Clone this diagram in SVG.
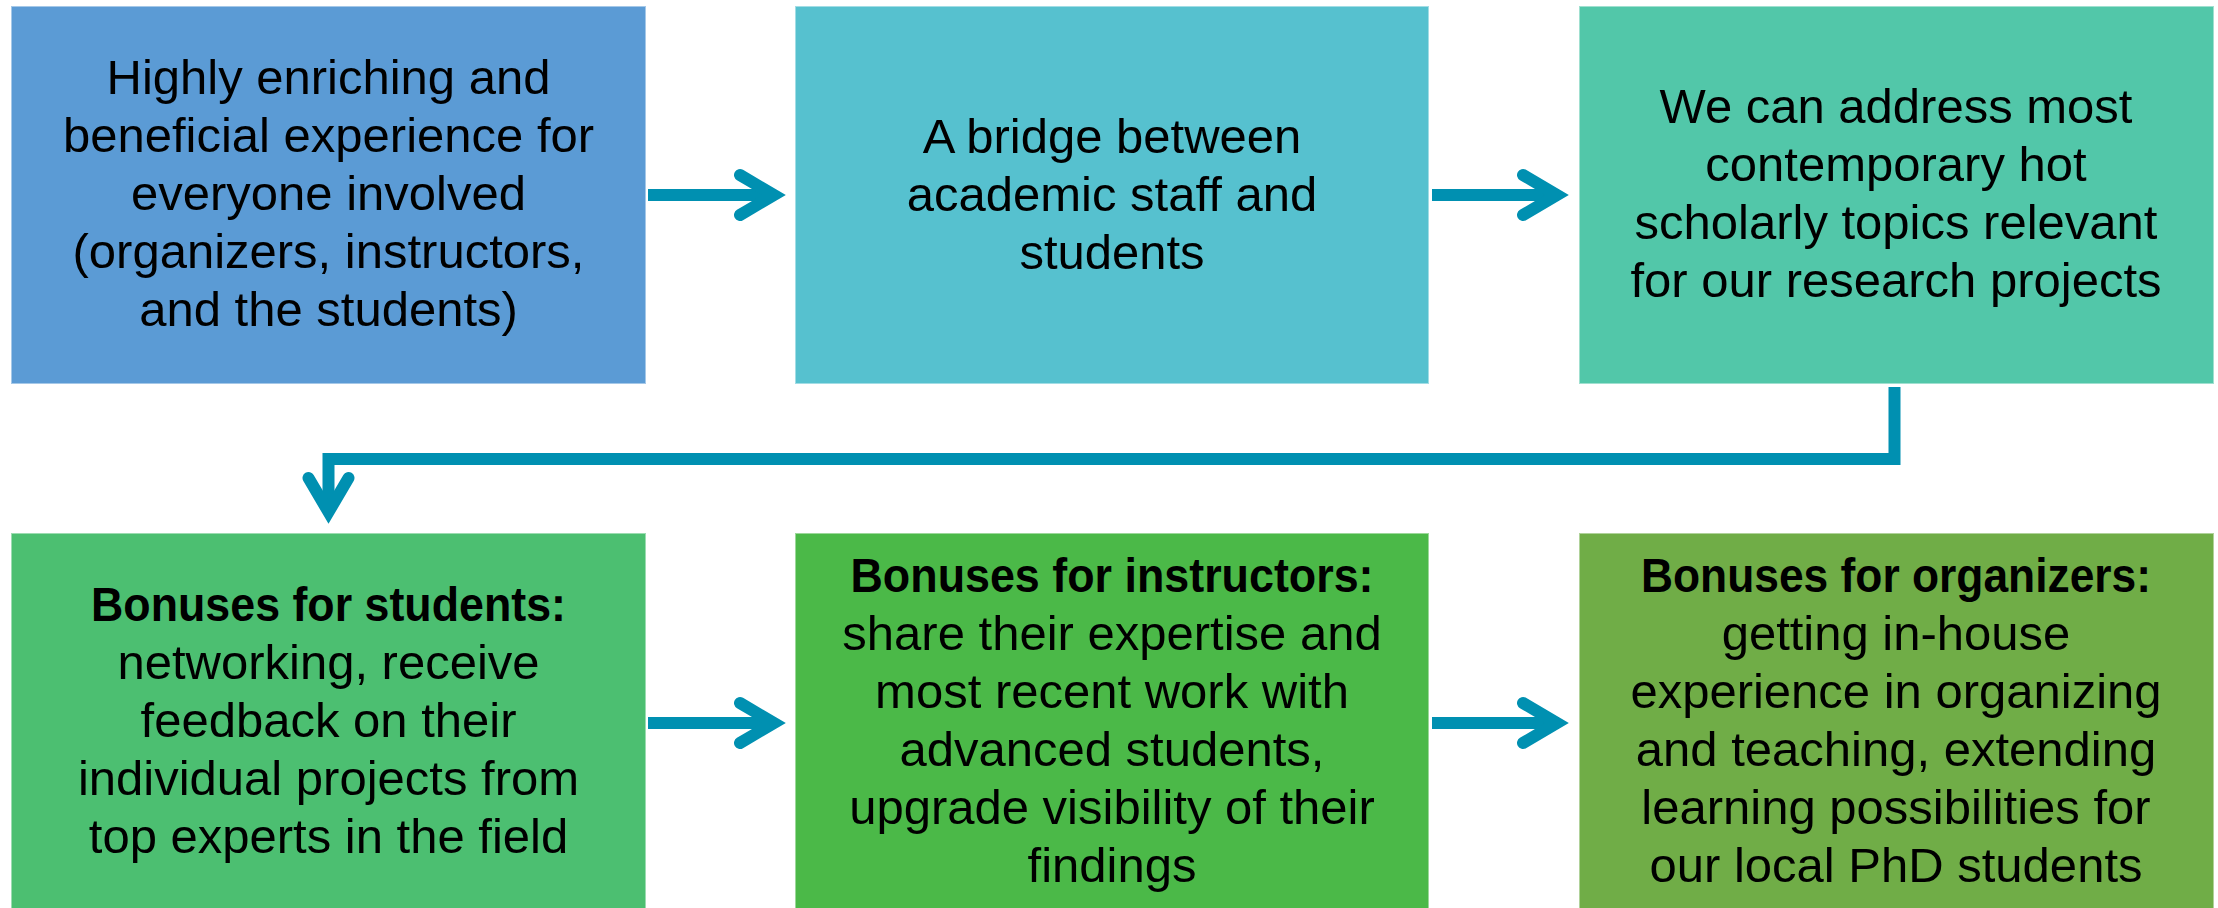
<svg xmlns="http://www.w3.org/2000/svg" width="2218" height="908" viewBox="0 0 2218 908">
<style>
.box{stroke:#ffffff;stroke-opacity:0.45;stroke-width:2}
.t{font-family:"Liberation Sans",Arial,sans-serif;font-size:49px;fill:#000;text-anchor:middle}
.b{font-weight:bold}
.shaft{fill:none;stroke:#0090B1;stroke-width:12;stroke-linecap:butt;stroke-linejoin:miter}
.head{fill:none;stroke:#0090B1;stroke-width:12;stroke-linecap:round;stroke-linejoin:miter;stroke-miterlimit:6}
</style>
<rect width="2218" height="908" fill="#ffffff"/>
<g id="connectors">
  <path class="shaft" d="M648 195 H774"/>
  <path class="head" d="M740 175 L774 195 L740 215"/>
  <path class="shaft" d="M1432 195 H1557"/>
  <path class="head" d="M1523 175 L1557 195 L1523 215"/>
  <path class="shaft" d="M1894.5 387 V459 H328.5 V512"/>
  <path class="head" d="M308.5 478 L328.5 512 L348.5 478"/>
  <path class="shaft" d="M648 723 H774"/>
  <path class="head" d="M740 703 L774 723 L740 743"/>
  <path class="shaft" d="M1432 723 H1557"/>
  <path class="head" d="M1523 703 L1557 723 L1523 743"/>
</g>
<g id="node1">
  <rect class="box" x="11" y="6" width="635" height="378" fill="#5B9BD5"/>
  <text class="t" x="328.5" y="94">Highly enriching and</text>
  <text class="t" x="328.5" y="152">beneficial experience for</text>
  <text class="t" x="328.5" y="210">everyone involved</text>
  <text class="t" x="328.5" y="268">(organizers, instructors,</text>
  <text class="t" x="328.5" y="326">and the students)</text>
</g>
<g id="node2">
  <rect class="box" x="795" y="6" width="634" height="378" fill="#56C1CF"/>
  <text class="t" x="1112" y="153">A bridge between</text>
  <text class="t" x="1112" y="211">academic staff and</text>
  <text class="t" x="1112" y="269">students</text>
</g>
<g id="node3">
  <rect class="box" x="1579" y="6" width="635" height="378" fill="#52C7A9"/>
  <text class="t" x="1896" y="123">We can address most</text>
  <text class="t" x="1896" y="181">contemporary hot</text>
  <text class="t" x="1896" y="239">scholarly topics relevant</text>
  <text class="t" x="1896" y="297">for our research projects</text>
</g>
<g id="node4">
  <rect class="box" x="11" y="533" width="635" height="377" fill="#4CBF71"/>
  <text class="t b" x="328.5" y="621" textLength="475" lengthAdjust="spacingAndGlyphs">Bonuses for students:</text>
  <text class="t" x="328.5" y="679">networking, receive</text>
  <text class="t" x="328.5" y="737">feedback on their</text>
  <text class="t" x="328.5" y="795">individual projects from</text>
  <text class="t" x="328.5" y="853">top experts in the field</text>
</g>
<g id="node5">
  <rect class="box" x="795" y="533" width="634" height="377" fill="#4BB948"/>
  <text class="t b" x="1112" y="592" textLength="523" lengthAdjust="spacingAndGlyphs">Bonuses for instructors:</text>
  <text class="t" x="1112" y="650">share their expertise and</text>
  <text class="t" x="1112" y="708">most recent work with</text>
  <text class="t" x="1112" y="766">advanced students,</text>
  <text class="t" x="1112" y="824">upgrade visibility of their</text>
  <text class="t" x="1112" y="882">findings</text>
</g>
<g id="node6">
  <rect class="box" x="1579" y="533" width="635" height="377" fill="#70AD47"/>
  <text class="t b" x="1896" y="592" textLength="510" lengthAdjust="spacingAndGlyphs">Bonuses for organizers:</text>
  <text class="t" x="1896" y="650">getting in-house</text>
  <text class="t" x="1896" y="708">experience in organizing</text>
  <text class="t" x="1896" y="766">and teaching, extending</text>
  <text class="t" x="1896" y="824">learning possibilities for</text>
  <text class="t" x="1896" y="882">our local PhD students</text>
</g>
</svg>
